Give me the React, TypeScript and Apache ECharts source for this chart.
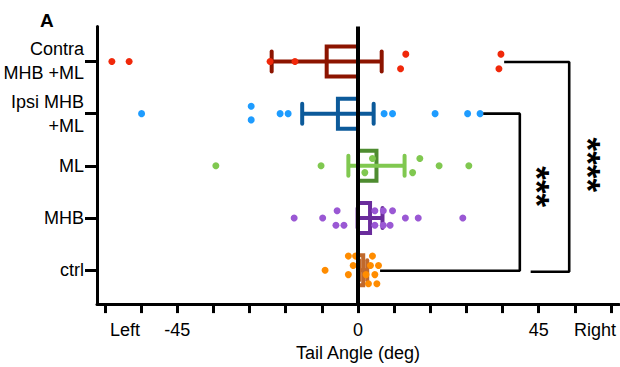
import React, { useEffect, useRef } from "react";
import * as echarts from "echarts";

// rows: 0 = ctrl ... 4 = Contra MHB +ML
const rowLabels = ["ctrl", "MHB", "ML", "Ipsi MHB\n+ML", "Contra\nMHB +ML"];
const rowIndex = [0, 1, 2, 3, 4];

const contraAngles = [-61.3, -57.0, -21.9, -15.7, 11.9, 10.6, 35.6, 35.1];
const contraJitter = [0, 0, 0, 0, 0.14, -0.14, 0.14, -0.14];

const ipsiAngles = [-53.9, -26.6, -26.6, -19.4, -17.4, 6.5, 8.6, 19.2, 27.3, 30.4];
const ipsiJitter = [0, 0.14, -0.12, 0, 0, 0, 0, 0, 0, 0];

const mlAngles = [-35.4, -9.2, 3.6, 1.7, 15.4, 13.6, 20.2, 27.6];
const mlJitter = [0, 0, 0.14, -0.13, 0.14, -0.13, 0, 0];

const mhbAngles = [-15.9, -8.8, -5.2, -5.5, -3.5, 4.2, 6.3, 8.6, 4.2, 6.3, 8.0, 11.8, 15.0, 26.1];
const mhbJitter = [0, 0, 0.14, -0.14, -0.14, 0.14, 0.14, 0.14, -0.14, -0.14, -0.14, 0, 0, 0];

const ctrlAngles = [-8.2, -2.4, -0.6, 3.6, -1.2, 3.1, 5.1, -2.4, 2.0, 4.2, 2.6, 4.7];
const ctrlJitter = [0, 0.27, 0.27, 0.27, 0.09, 0.09, 0.09, -0.085, -0.085, -0.085, -0.26, -0.26];

// mean and SEM per row (ctrl, MHB, ML, Ipsi, Contra)
const groupMeans = [1.3, 3.0, 4.6, -5.0, -7.8];
const groupSems = [1.0, 3.1, 7.0, 8.9, 13.7];

// x axis ticks and labels
const xTickValues = [-63, -54, -45, -36, -27, -18, -9, 0, 9, 18, 27, 36, 45, 54, 63];
const xLabelValues = [-58, -45, 0, 45, 59];
const xLabelTexts = ["Left", "-45", "0", "45", "Right"];

// significance brackets (data coordinates) and stars
const bracketIpsi = [[31.2, 3.0], [40.3, 3.0], [40.3, -0.01], [5.5, -0.01]];
const bracketContra = [[36.4, 3.99], [52.6, 3.99], [52.6, -0.03], [43.0, -0.03]];
const starTexts = ["***", "****"];
const starPositions = [[44.8, 1.6], [57.4, 2.02]];

const pointColors = ["#ff8c00", "#9a58d4", "#80c850", "#1e9cff", "#f0280a"];
const boxColors = ["#c0692c", "#6a2c9c", "#4e8c30", "#0c5a9a", "#8c1400"];
const whiskerColors = ["#c0692c", "#6a2c9c", "#80c850", "#0c5a9a", "#8c1400"];

const FONT = "'Liberation Sans', Arial, sans-serif";

function pts(angles: number[], jitter: number[], row: number) {
  return angles.map((a, i) => [a, row + jitter[i]]);
}

export default function App() {
  const ref = useRef<HTMLDivElement>(null);
  useEffect(() => {
    if (!ref.current) return;
    const chart = echarts.init(ref.current, null, { renderer: "svg" });
    const groups = [
      pts(ctrlAngles, ctrlJitter, 0),
      pts(mhbAngles, mhbJitter, 1),
      pts(mlAngles, mlJitter, 2),
      pts(ipsiAngles, ipsiJitter, 3),
      pts(contraAngles, contraJitter, 4),
    ];
    const barData = rowIndex.map((r) => [groupMeans[r], r, groupSems[r]]);

    const option: any = {
      animation: false,
      title: {
        text: "A",
        left: 35,
        top: 6,
        textStyle: { fontFamily: FONT, fontSize: 19, fontWeight: "bold", color: "#000" },
      },
      grid: { left: 97, right: 1, top: 26.5, bottom: 57 },
      xAxis: {
        type: "value",
        min: -65,
        max: 65,
        name: "Tail Angle (deg)",
        nameLocation: "middle",
        nameGap: 37,
        nameTextStyle: { fontFamily: FONT, fontSize: 18, color: "#000" },
        axisLine: { show: true, onZero: false, lineStyle: { color: "#000", width: 3 } },
        axisTick: { show: true, customValues: xTickValues, length: 9, lineStyle: { color: "#000", width: 3 } },
        axisLabel: {
          customValues: xLabelValues,
          formatter: (v: number) => {
            const i = xLabelValues.indexOf(v);
            return i >= 0 ? xLabelTexts[i] : "";
          },
          margin: 17,
          fontFamily: FONT,
          fontSize: 18,
          color: "#000",
        },
        splitLine: { show: false },
      },
      yAxis: {
        type: "value",
        min: -0.65,
        max: 4.67,
        axisLine: { show: true, onZero: false, lineStyle: { color: "#000", width: 3 } },
        axisTick: { show: true, customValues: rowIndex, length: 12, lineStyle: { color: "#000", width: 3 } },
        axisLabel: {
          customValues: rowIndex,
          formatter: (v: number) => rowLabels[v] ?? "",
          margin: 13,
          fontFamily: FONT,
          fontSize: 18,
          lineHeight: 24,
          align: "right",
          color: "#000",
        },
        splitLine: { show: false },
      },
      series: [
        {
          type: "custom",
          z: 2,
          data: barData,
          encode: { x: 0, y: 1 },
          renderItem: (params: any, api: any) => {
            const mean = api.value(0);
            const row = api.value(1);
            const sem = api.value(2);
            const r = params.dataIndex;
            const p0 = api.coord([0, row]);
            const pm = api.coord([mean, row]);
            const pl = api.coord([mean - sem, row]);
            const ph = api.coord([mean + sem, row]);
            const bh = 30;
            const ch = 20;
            const wc = whiskerColors[r];
            const bc = boxColors[r];
            return {
              type: "group",
              children: [
                {
                  type: "rect",
                  shape: { x: Math.min(p0[0], pm[0]), y: p0[1] - bh / 2, width: Math.abs(pm[0] - p0[0]), height: bh },
                  style: { fill: "none", stroke: bc, lineWidth: 4 },
                },
                {
                  type: "line",
                  shape: { x1: pl[0], y1: pl[1], x2: ph[0], y2: ph[1] },
                  style: { stroke: wc, lineWidth: 4 },
                },
                {
                  type: "line",
                  shape: { x1: pl[0], y1: pl[1] - ch / 2, x2: pl[0], y2: pl[1] + ch / 2 },
                  style: { stroke: wc, lineWidth: 4, lineCap: "round" },
                },
                {
                  type: "line",
                  shape: { x1: ph[0], y1: ph[1] - ch / 2, x2: ph[0], y2: ph[1] + ch / 2 },
                  style: { stroke: wc, lineWidth: 4, lineCap: "round" },
                },
              ],
            };
          },
        },
        ...groups.map((g, i) => ({
          type: "scatter",
          z: 3,
          data: g,
          symbolSize: 7,
          itemStyle: { color: pointColors[i], opacity: 1 },
        })),
        {
          type: "line",
          z: 5,
          data: bracketIpsi,
          symbol: "none",
          lineStyle: { color: "#000", width: 2.6 },
          markLine: {
            silent: true,
            symbol: ["none", "none"],
            label: { show: false },
            lineStyle: { color: "#000", width: 4, type: "solid" },
            data: [{ xAxis: 0 }],
          },
        },
        {
          type: "line",
          z: 5,
          data: bracketContra,
          symbol: "none",
          lineStyle: { color: "#000", width: 2.6 },
        },
        {
          type: "custom",
          z: 6,
          data: starPositions.map((p, i) => [p[0], p[1], i]),
          encode: { x: 0, y: 1 },
          renderItem: (params: any, api: any) => {
            const p = api.coord([api.value(0), api.value(1)]);
            return {
              type: "text",
              x: p[0],
              y: p[1],
              rotation: -Math.PI / 2,
              style: {
                text: starTexts[params.dataIndex],
                font: `bold 35px ${FONT}`,
                fill: "#000",
                align: "center",
                verticalAlign: "middle",
              },
            };
          },
        },
      ],
    };
    chart.setOption(option);
    return () => chart.dispose();
  }, []);
  return (
    <div
      ref={ref}
      style={{ position: "fixed", left: 0, top: 0, width: 620, height: 367, background: "#fff" }}
    />
  );
}
